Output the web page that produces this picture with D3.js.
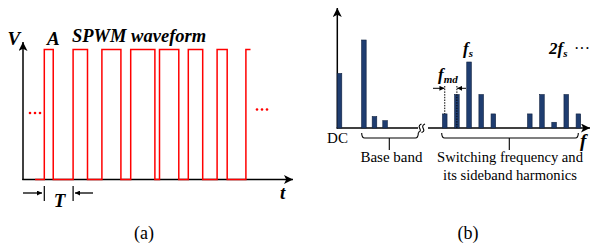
<html>
<body style="margin:0;background:#fff">
<svg id="mainSvg" width="591" height="249"></svg>
<script src="https://d3js.org/d3.v7.min.js"></script>
<script>
// (a) SPWM waveform: duty cycle of each carrier period, period = T
const dutyCycles = [0.31, 0.5, 0.66, 0.84, 0.67, 0.5, 0.35]
const lastRise = 0.16   // open pulse at the right edge
// (b) spectrum, frequency in units of f_md, V normalised to the largest bar
const baseFreq = [0, 2.3, 3.3, 4.3]
const baseAmp = [0.62, 1.0, 0.13, 0.083]
const switchFreq = [5, 6, 7, 8, 9, 12, 13, 14, 15, 16]
const switchAmp = [0.16, 0.38, 0.75, 0.38, 0.16, 0.16, 0.38, 0.065, 0.38, 0.16]

const svg = d3.select('#mainSvg')
const serif = 'Liberation Serif, Times New Roman, serif'
const red = '#ff0000', navy = '#1f3d70'

const defs = svg.append('defs')
defs.append('marker').attr('id', 'arr').attr('viewBox', '0 0 10 10')
    .attr('refX', 10).attr('refY', 5).attr('markerWidth', 9).attr('markerHeight', 9)
    .attr('markerUnits', 'userSpaceOnUse').attr('orient', 'auto')
    .append('path').attr('d', 'M0,0 L10,5 L0,10 L2.5,5 Z').attr('fill', '#000')
defs.append('marker').attr('id', 'sm').attr('viewBox', '0 0 10 10')
    .attr('refX', 10).attr('refY', 5).attr('markerWidth', 5).attr('markerHeight', 5)
    .attr('markerUnits', 'userSpaceOnUse').attr('orient', 'auto')
    .append('path').attr('d', 'M0,0 L10,5 L0,10 Z').attr('fill', '#000')

function label(x, y, txt, size, opts = {}) {
    return svg.append('text').attr('x', x).attr('y', y).text(txt)
        .attr('font-family', serif).attr('font-size', size)
        .attr('font-style', opts.italic ? 'italic' : 'normal')
        .attr('font-weight', opts.bold ? 'bold' : 'normal')
        .attr('fill', opts.fill || '#000')
        .attr('text-anchor', opts.anchor || 'start')
}
function line(x1, y1, x2, y2, opts = {}) {
    const l = svg.append('line').attr('x1', x1).attr('y1', y1).attr('x2', x2).attr('y2', y2)
        .attr('stroke', opts.stroke || '#000').attr('stroke-width', opts.w || 1.3)
    if (opts.marker) l.attr('marker-end', `url(#${opts.marker})`)
    if (opts.dash) l.attr('stroke-dasharray', opts.dash)
    return l
}
function dots(cx, cy, fill) {
    svg.append('g').selectAll('circle').data([-5, 0, 5]).join('circle')
        .attr('cx', d => cx + d).attr('cy', cy).attr('r', 1.3).attr('fill', fill)
}

// ---------- (a) ----------
const tScale = d3.scaleLinear().domain([0, 1]).range([44.3, 73.1])
const vScale = d3.scaleLinear().domain([0, 1]).range([179.5, 49.5])

line(23, 180, 23, 42, { marker: 'arr', w: 1.5 })
line(22.3, 179.5, 293, 179.5, { marker: 'arr', w: 1.5 })

const pts = [[-0.32, 0]]
dutyCycles.forEach((d, k) => { pts.push([k, 0], [k, 1], [k + d, 1], [k + d, 0]) })
const n = dutyCycles.length
pts.push([n, 0], [n, 1], [n + lastRise, 1])
svg.append('path').attr('d', d3.line().x(p => tScale(p[0])).y(p => vScale(p[1]))(pts))
    .attr('fill', 'none').attr('stroke', red).attr('stroke-width', 1.5)

label(7.5, 45, 'V', 19, { italic: true, bold: true })
label(47, 45, 'A', 19, { italic: true, bold: true })
label(72, 42, 'SPWM waveform', 18.5, { italic: true, bold: true })
label(280, 199, 't', 19, { italic: true, bold: true })
dots(35, 113, red)
dots(262, 109.5, red)

// period marker
line(23, 193, 42, 193, { marker: 'sm', w: 1.3 })
line(tScale(0), 186, tScale(0), 201, { w: 1.2 })
line(tScale(1), 186, tScale(1), 201, { w: 1.2 })
line(93, 193, 75, 193, { marker: 'sm', w: 1.3 })
label(59.5, 207, 'T', 19, { italic: true, bold: true, anchor: 'middle' })
label(144, 239, '(a)', 18, { anchor: 'middle' })

// ---------- (b) ----------
const baseX = d3.scaleLinear().domain([0, 1]).range([339.5, 350.1])
const swX = d3.scaleLinear().domain([0, 1]).range([384, 396.15])
const ampY = d3.scaleLinear().domain([0, 1]).range([128, 40])
const bw = 4.6

line(337.3, 128.5, 337.3, 8, { marker: 'arr', w: 1.5 })
line(336.6, 128, 418, 128, { w: 1.5 })
line(428, 128, 590, 128, { marker: 'arr', w: 1.5 })
// axis break
const zz = d3.line().curve(d3.curveBasis)
;[0, 3.5].forEach(dx => {
    const x0 = 419.5 + dx
    svg.append('path').attr('d', zz([[x0 - 1.5, 132.5], [x0 + 2, 131], [x0 - 1.5, 126], [x0 + 2, 124]]))
        .attr('fill', 'none').attr('stroke', '#000').attr('stroke-width', 1.1)
})

function bars(xs, ys, xScale) {
    svg.append('g').selectAll('rect').data(xs).join('rect')
        .attr('x', d => xScale(d) - bw / 2)
        .attr('y', (d, i) => ampY(ys[i]))
        .attr('width', bw)
        .attr('height', (d, i) => ampY(0) - ampY(ys[i]))
        .attr('fill', navy).attr('stroke', '#10213f').attr('stroke-width', 0.6)
}
bars(baseFreq, baseAmp, baseX)
bars(switchFreq, switchAmp, swX)

// f_md marker
const x5 = swX(5), x6 = swX(6)
line(x5, 86, x5, ampY(switchAmp[0]), { dash: '1.5,1.2', w: 1 })
line(x6, 86, x6, 128, { dash: '1.5,1.2', w: 1 })
line(433, 88.3, x5 - 0.3, 88.3, { marker: 'sm', w: 1 })
line(466, 88.3, x6 + 0.3, 88.3, { marker: 'sm', w: 1 })
const fmd = label(438, 80, 'f', 17, { italic: true, bold: true })
fmd.append('tspan').attr('font-size', 11).attr('dy', 2.5).text('md')
const fsL = label(463, 54, 'f', 17, { italic: true, bold: true })
fsL.append('tspan').attr('font-size', 11).attr('dy', 2.5).text('s')
const f2 = label(549, 54, '2f', 17, { italic: true, bold: true })
f2.append('tspan').attr('font-size', 11).attr('dy', 2.5).text('s')
label(582, 54, '···', 16, { anchor: 'middle' })
label(580, 147, 'f', 19, { italic: true, bold: true })

// brackets
function bracket(x1, x2, xm) {
    svg.append('path').attr('d', `M${x1},133 Q${x1},138 ${x1 + 3},138 L${x2 - 3},138 Q${x2},138 ${x2},133 M${xm},138 L${xm},150`)
        .attr('fill', 'none').attr('stroke', '#000').attr('stroke-width', 1.1)
}
bracket(361.7, 418.3, 389.3)
bracket(441.7, 578.3, 509.3)

label(337.5, 143, 'DC', 15, { anchor: 'middle' })
label(391.5, 162, 'Base band', 15, { anchor: 'middle' })
label(510, 162, 'Switching frequency and', 14.6, { anchor: 'middle' })
label(510, 180, 'its sideband harmonics', 14.6, { anchor: 'middle' })
label(468, 239, '(b)', 18, { anchor: 'middle' })
</script>
</body>
</html>
